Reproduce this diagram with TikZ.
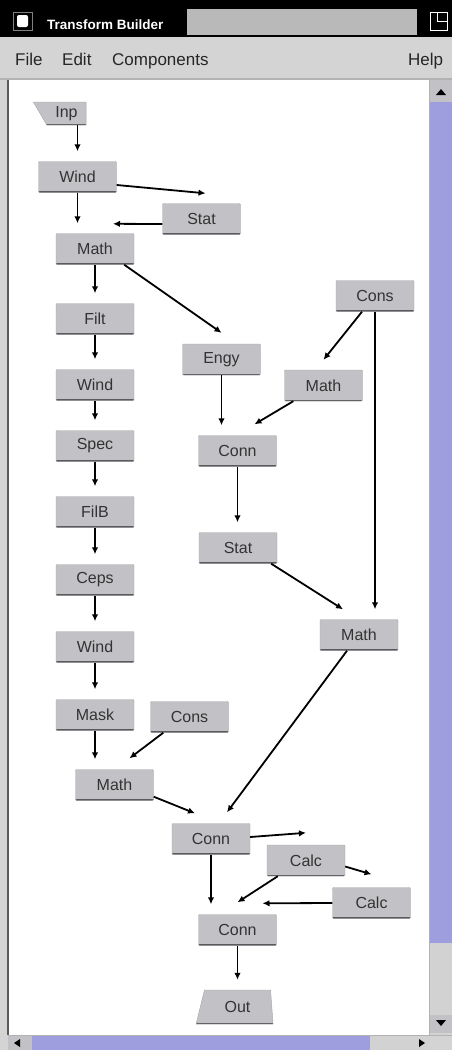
\documentclass[tikz,border=0pt]{standalone}
\usepackage{fontspec}
\setmainfont{Liberation Sans}
\usetikzlibrary{arrows.meta, shapes.geometric}
\definecolor{boxgray}{RGB}{194,194,198}
\definecolor{wingray}{RGB}{212,212,212}
\definecolor{lavender}{RGB}{158,158,222}
\definecolor{edgegray}{RGB}{90,90,94}

\begin{document}
\begin{tikzpicture}[
x=1pt, y=-1pt,
box/.style={draw=gray!70, fill=boxgray, rounded corners=1pt,
minimum width=78pt, minimum height=31pt, inner sep=0pt,
font=\fontsize{16}{18}\selectfont, text=black!80,
path picture={\draw[edgegray, line width=3pt]
(path picture bounding box.south west) -- (path picture bounding box.south east);}},
port/.style={box, trapezium, trapezium stretches=true, rounded corners=0pt},
arrow/.style={-{Latex[length=7pt, width=6.5pt]}, line width=1.8pt, shorten >=10pt},
pointer/.style={arrow, shorten >=0pt},
menu/.style={font=\fontsize{17}{19}\selectfont, text=black!85, anchor=base west, inner sep=0pt}
]

% window frame
\useasboundingbox (0,0) rectangle (452,1050);
\fill[wingray] (0,0) rectangle (452,1050);
\fill[black] (0,0) rectangle (452,37);
\draw[gray, line width=1pt] (13,12) rectangle (32,30);
\fill[white, rounded corners=2pt] (17,15) rectangle (28,27);
\node[anchor=base west, text=white, inner sep=0pt,
font=\bfseries\fontsize{13.5}{15}\selectfont] (title) at (47,29) {Transform Builder};
\fill[gray!55] (187,9) rectangle (417,35);
\draw[white, line width=1pt] (430,12) rectangle (447,30) (437,12) |- (447,21);

\node[menu] (file) at (15,65) {File};
\node[menu] (edit) at (62,65) {Edit};
\node[menu] (comp) at (112,65) {Components};
\node[menu] (help) at (408,65) {Help};
\fill[gray!60] (0,78) rectangle (452,80);

% canvas and scroll bars
\fill[white] (8,80) rectangle (429,1035);
\draw[gray!70!black, line width=1.5pt] (8,80) -- (8,1035);
\fill[boxgray] (430,80) rectangle (452,102);
\fill[black] (436,95) -- (446,95) -- (441,89) -- cycle;
\fill[lavender] (430,102) rectangle (452,943);
\fill[gray!35] (430,943) rectangle (452,1015);
\fill[boxgray] (430,1015) rectangle (452,1033);
\fill[black] (436,1020) -- (446,1020) -- (441,1026) -- cycle;
\draw[gray!60] (429.5,80) -- (429.5,1035);
\fill[boxgray] (8,1036) rectangle (32,1050);
\fill[black] (14,1043) -- (20,1039) -- (20,1047) -- cycle;
\fill[lavender] (32,1036) rectangle (370,1050);
\fill[gray!35] (370,1036) rectangle (430,1050);
\fill[black] (425,1043) -- (419,1039) -- (419,1047) -- cycle;
\draw[gray!60] (8,1035.5) -- (452,1035.5);

% transforms
\node[port, trapezium left angle=118, trapezium right angle=90,
minimum width=53pt, minimum height=23pt] (inp) at (66.5,113.5) {Inp};
\node[box] (wind1) at (77.5,177) {Wind};
\node[box] (stat1) at (201.5,219) {Stat};
\node[box] (math1) at (95,249) {Math};
\node[box] (filt) at (95,319) {Filt};
\node[box] (wind2) at (95,385) {Wind};
\node[box] (spec) at (95,446) {Spec};
\node[box] (filb) at (95,512) {FilB};
\node[box] (ceps) at (95,580) {Ceps};
\node[box] (wind3) at (95,647) {Wind};
\node[box] (mask) at (95,715) {Mask};
\node[box] (cons2) at (189.5,717) {Cons};
\node[box] (math3) at (114.5,785) {Math};
\node[box] (engy) at (221.5,359.5) {Engy};
\node[box] (cons1) at (375,296) {Cons};
\node[box] (math2) at (323.5,385.5) {Math};
\node[box] (conn1) at (237.5,451) {Conn};
\node[box] (stat2) at (238,548) {Stat};
\node[box] (math4) at (359,635) {Math};
\node[box] (conn2) at (211,839) {Conn};
\node[box] (calc1) at (306,860.5) {Calc};
\node[box] (calc2) at (371.5,903) {Calc};
\node[box] (conn3) at (237.5,930) {Conn};
\node[port, trapezium left angle=74, trapezium right angle=85,
minimum width=77pt, minimum height=34pt] (out) at (237.5,1007) {Out};

% links
\draw[arrow] (inp.south -| wind1.north) -- (wind1.north);
\draw[pointer] ([yshift=-8pt]wind1.east) -- ([xshift=4pt, yshift=10pt]stat1.north);
\draw[pointer] ([yshift=-5pt]stat1.west) -- ([xshift=18pt, yshift=9.5pt]math1.north);
\draw[arrow] (wind1.south) -- (wind1.south |- math1.north);
\draw[pointer] ([xshift=-10pt]math1.south east) -- ([yshift=11pt]engy.north);
\foreach \a/\b in {math1/filt, filt/wind2, wind2/spec, spec/filb, filb/ceps, ceps/wind3, wind3/mask}
  \draw[arrow] (\a) -- (\b);
\draw[arrow] (mask.south) -- (mask.south |- math3.north);
\draw[pointer] ([xshift=13pt]cons2.south west) -- ([xshift=15pt, yshift=11pt]math3.north);
\draw[pointer] ([yshift=4pt]math3.south east) -- ([xshift=-16pt, yshift=10pt]conn2.north);
\draw[pointer] ([xshift=-13pt]cons1.south) -- ([yshift=10pt]math2.north);
\draw[arrow] (cons1.south) -- (cons1.south |- math4.north);
\draw[arrow] (engy.south) -- (engy.south |- conn1.north);
\draw[pointer] ([xshift=9pt]math2.south west) -- ([xshift=17pt, yshift=11pt]conn1.north);
\draw[arrow] (conn1.south) -- (conn1.south |- stat2.north);
\draw[pointer] ([xshift=-6pt]stat2.south east) -- ([xshift=-16pt, yshift=10pt]math4.north);
\draw[pointer] ([xshift=-12pt]math4.south) -- ([xshift=16pt, yshift=11pt]conn2.north);
\draw[pointer] ([yshift=2pt]conn2.east) -- ([yshift=12pt]calc1.north);
\draw[pointer] ([yshift=-6pt]calc1.east) -- ([yshift=13pt]calc2.north);
\draw[pointer] (calc2.west) -- ([xshift=25pt, yshift=11pt]conn3.north);
\draw[pointer] ([xshift=11pt]calc1.south west) -- ([yshift=12pt]conn3.north);
\draw[arrow] (conn2.south) -- (conn2.south |- conn3.north);
\draw[arrow] (conn3.south) -- (conn3.south |- out.north);

\end{tikzpicture}
\end{document}
